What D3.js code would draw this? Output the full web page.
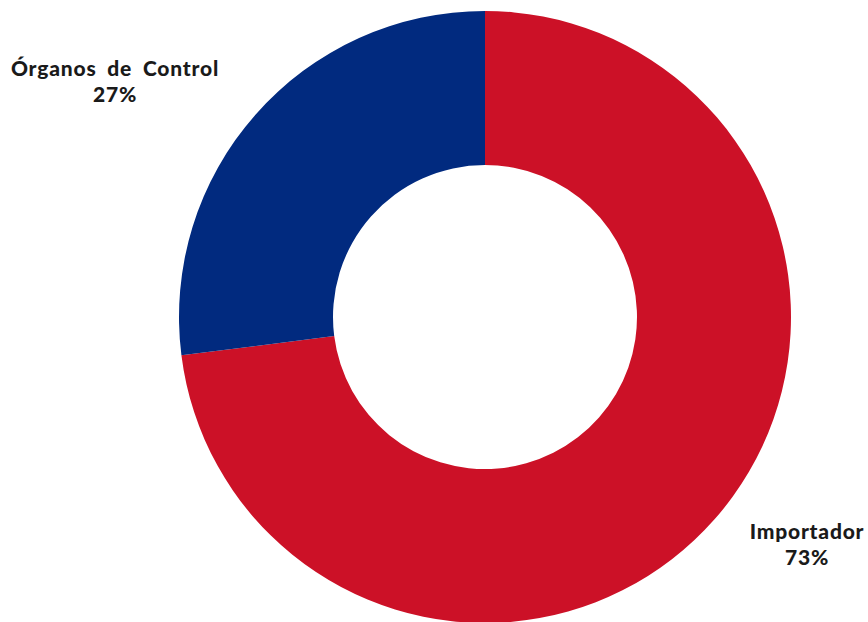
<!DOCTYPE html>
<html>
<head>
<meta charset="utf-8">
<script src="https://cdn.jsdelivr.net/npm/d3@7"></script>
<style>
  body { margin: 0; background: #fff; }
  svg text { font-family: Lato, "Noto Sans", sans-serif; font-weight: 900; fill: #1a1a1a; }
</style>
</head>
<body>
<div id="chart"></div>
<script>
const categories = ['Órganos de Control', 'Importador']
const values = [27, 73]
const colors = ['#012a7f', '#cc1127']

const width = 868, height = 622
const cx = 485, cy = 317
const outerR = 306, innerR = 152

let svg = d3.select('#chart').append('svg')
    .attr('width', width)
    .attr('height', height)

let data = categories.map((c, i) => ({ name: c, value: values[i], color: colors[i] }))

// blue slice runs counter-clockwise from 12 o'clock, so order Importador first
let pie = d3.pie()
    .value(d => d.value)
    .sort(null)
let arcs = pie([data[1], data[0]])

let arc = d3.arc()
    .innerRadius(innerR)
    .outerRadius(outerR)

let g = svg.append('g').attr('transform', `translate(${cx},${cy})`)
g.selectAll('path')
    .data(arcs)
  .enter().append('path')
    .attr('d', arc)
    .attr('fill', d => d.data.color)

// labels
const labelPos = { 'Órganos de Control': [115, 76], 'Importador': [807, 539] }
data.forEach(d => {
    let [x, y] = labelPos[d.name]
    let t = svg.append('text')
        .attr('x', x).attr('y', y)
        .attr('text-anchor', 'middle')
        .attr('font-size', 21)
        .attr('letter-spacing', 0.8)
        .attr('word-spacing', 5)
    t.append('tspan').attr('x', x).text(d.name)
    t.append('tspan').attr('x', x).attr('dy', 26).text(d.value + '%')
})
</script>
</body>
</html>
